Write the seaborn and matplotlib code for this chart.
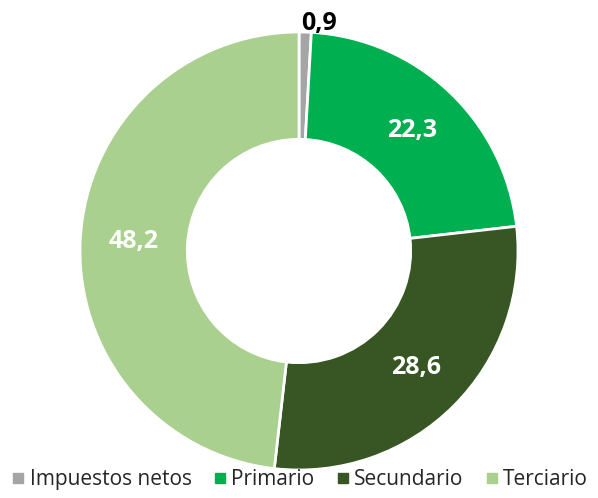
import numpy as np
import matplotlib.pyplot as plt
import seaborn as sns
from matplotlib.lines import Line2D

sectores = ['Impuestos netos', 'Primario', 'Secundario', 'Terciario']
valores = [0.9, 22.3, 28.6, 48.2]
etiquetas = ['0,9', '22,3', '28,6', '48,2']
colores = ['#A5A5A5', '#00B050', '#375623', '#A9D08E']

sns.set_theme(style='white')
plt.rcParams['font.family'] = ['Open Sans', 'DejaVu Sans']

fig = plt.figure(figsize=(5.98, 4.98), dpi=100)
ax = fig.add_axes([80 / 598, 28 / 498, 438 / 598, 438 / 498])

wedges, _ = ax.pie(valores, colors=colores, startangle=90, counterclock=False,
                   radius=1, wedgeprops=dict(width=0.49, edgecolor='white', linewidth=2))
ax.set_xlim(-1, 1)
ax.set_ylim(-1, 1)
ax.set_aspect('equal')
ax.axis('off')

for w, lab in zip(wedges, etiquetas):
    ang = np.deg2rad((w.theta1 + w.theta2) / 2)
    if lab == '0,9':
        ax.text(np.cos(ang) * 1.0 + 0.065, np.sin(ang) * 1.0 + 0.04, lab, ha='center', va='center',
                fontsize=18, fontweight='bold', color='black')
    else:
        r = 0.755
        ax.text(np.cos(ang) * r, np.sin(ang) * r, lab, ha='center', va='center',
                fontsize=18, fontweight='bold', color='white')

handles = [Line2D([], [], marker='s', linestyle='none', markersize=7.5,
                  markerfacecolor=c, markeredgecolor=c) for c in colores]
fig.legend(handles, sectores, loc='lower center', bbox_to_anchor=(0.5, -0.022), ncol=4,
           frameon=False, fontsize=15, handletextpad=0.15, columnspacing=0.95,
           handlelength=0.8)

fig.savefig('out.png', dpi=100)
